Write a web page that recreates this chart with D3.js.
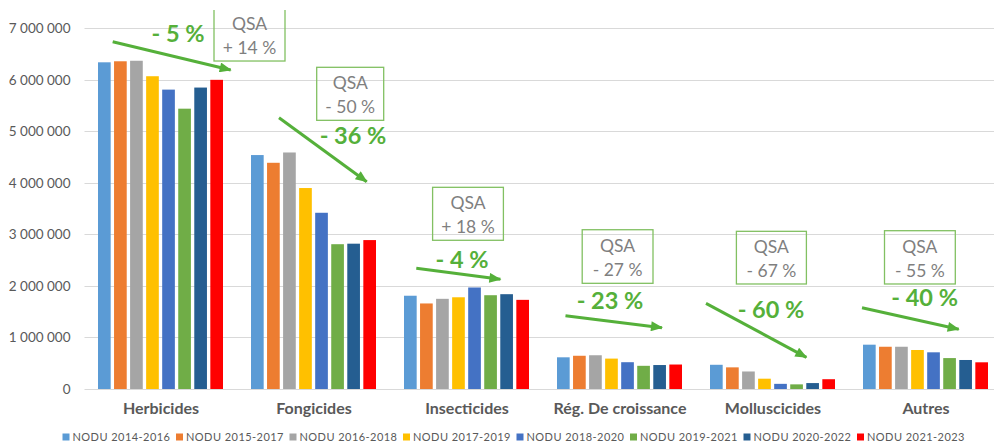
<!DOCTYPE html>
<meta charset="utf-8">
<style>
    body { margin: 0; background: #fff; }
    text { font-family: Lato, "Open Sans", sans-serif; }
    .grid line { stroke: #d9d9d9; stroke-width: 1; }
    .y.axis text { fill: #595959; font-size: 13.5px; }
    .x.axis text { fill: #595959; font-size: 16px; font-weight: bold; }
    .legend text { fill: #595959; font-size: 11px; letter-spacing: 0.45px; }
    .qsa rect { fill: none; stroke: #82c062; stroke-width: 1.3; }
    .qsa text { fill: #7f7f7f; font-size: 17.5px; text-anchor: middle; }
    .nodu text { fill: #55b03a; font-size: 23.5px; font-weight: bold; text-anchor: middle; }
    .arrow line { stroke: #55b03a; stroke-width: 3; }
</style>
<body>
<script src="https://cdn.jsdelivr.net/npm/d3@7"></script>
<script>
    // data
    var categories = ["Herbicides", "Fongicides", "Insecticides", "Rég. De croissance", "Molluscicides", "Autres"];
    var series = ["NODU 2014-2016", "NODU 2015-2017", "NODU 2016-2018", "NODU 2017-2019",
                  "NODU 2018-2020", "NODU 2019-2021", "NODU 2020-2022", "NODU 2021-2023"];
    var colors = ["#5b9bd5", "#ed7d31", "#a5a5a5", "#ffc000", "#4472c4", "#70ad47", "#255e91", "#ff0000"];

    // values per category, one per series
    var herbicides    = [6340000, 6360000, 6370000, 6070000, 5810000, 5440000, 5850000, 6000000];
    var fongicides    = [4540000, 4390000, 4590000, 3900000, 3420000, 2810000, 2820000, 2890000];
    var insecticides  = [1810000, 1660000, 1750000, 1780000, 1970000, 1820000, 1840000, 1730000];
    var regCroissance = [615000, 645000, 655000, 590000, 520000, 450000, 465000, 475000];
    var molluscicides = [470000, 420000, 340000, 200000, 100000, 90000, 115000, 190000];
    var autres        = [860000, 820000, 820000, 757000, 712000, 600000, 563000, 518000];
    var values = [herbicides, fongicides, insecticides, regCroissance, molluscicides, autres];

    var yTicks = [0, 1000000, 2000000, 3000000, 4000000, 5000000, 6000000, 7000000];

    var qsaChange  = ["+ 14 %", "- 50 %", "+ 18 %", "- 27 %", "- 67 %", "- 55 %"];
    var noduChange = ["- 5 %", "- 36 %", "- 4 %", "- 23 %", "- 60 %", "- 40 %"];

    // annotation layout: x offsets (px) from band start, y in data units
    var boxLayout = [
        {x: 129.5, w: 71, top: 7490000, bottom: 6365000},
        {x: 79.2, w: 67, top: 6243000, bottom: 5214000},
        {x: 42.1, w: 70.8, top: 3914000, bottom: 2886000},
        {x: 38.7, w: 70.8, top: 3091000, bottom: 2051000},
        {x: 39.9, w: 70, top: 3060000, bottom: 2038000},
        {x: 35, w: 70.8, top: 3072000, bottom: 2038000}
    ];
    var labelLayout = [
        {x: 93.5, y: 6903000}, {x: 115.5, y: 4910000}, {x: 71.5, y: 2503000},
        {x: 66.5, y: 1709000}, {x: 74.5, y: 1533000}, {x: 75.1, y: 1780000}
    ];
    var arrowLayout = [
        {x1: 28.2, y1: 6740000, x2: 146.2, y2: 6191000},
        {x1: 41.5, y1: 5265000, x2: 129.2, y2: 4023000},
        {x1: 25.8, y1: 2342000, x2: 109.9, y2: 2129000},
        {x1: 22, y1: 1422000, x2: 118.5, y2: 1190000},
        {x1: 9.5, y1: 1663000, x2: 109.9, y2: 615000},
        {x1: 12.5, y1: 1578000, x2: 109.2, y2: 1159000}
    ];

    var width = 994, height = 443;
    var plot = {left: 84.5, right: 1002.5, top: 28.3, bottom: 389};

    var x = d3.scaleBand()
            .domain(categories)
            .range([plot.left, plot.right]);

    var x1 = d3.scaleBand()
            .domain(series)
            .range([13.5, 138.5])
            .paddingInner(0.21);

    var y = d3.scaleLinear()
            .domain([0, 7000000])
            .range([plot.bottom, plot.top]);

    var fmt = function(d) { return d3.format(",")(d).replace(/,/g, " "); };

    var svg = d3.select("body").append("svg")
                .attr("width", width)
                .attr("height", height);

    var defs = svg.append("defs");
    defs.append("clipPath")
        .attr("id", "clip")
        .append("rect")
        .attr("x", 0).attr("y", 10).attr("width", width).attr("height", height - 10);

    defs.append("marker")
        .attr("id", "head")
        .attr("viewBox", "0 0 12 10")
        .attr("refX", 11).attr("refY", 5)
        .attr("markerWidth", 13).attr("markerHeight", 10)
        .attr("markerUnits", "userSpaceOnUse")
        .attr("orient", "auto")
        .append("path")
        .attr("d", "M0,0L12,5L0,10z")
        .attr("fill", "#55b03a");

    // gridlines
    svg.append("g")
        .attr("class", "grid")
        .selectAll("line")
        .data(yTicks)
        .join("line")
        .attr("x1", plot.left).attr("x2", width)
        .attr("y1", function(d) { return Math.round(y(d)) + 0.5; })
        .attr("y2", function(d) { return Math.round(y(d)) + 0.5; });

    // y axis
    var yAxis = d3.axisLeft(y).tickValues(yTicks).tickFormat(fmt).tickSize(0).tickPadding(14);
    svg.append("g")
        .attr("class", "y axis")
        .attr("transform", "translate(" + plot.left + ",0)")
        .call(yAxis)
        .call(function(g) { g.select(".domain").remove(); });

    // bars
    var groups = svg.append("g")
        .selectAll("g")
        .data(categories)
        .join("g")
        .attr("transform", function(d) { return "translate(" + x(d) + ",0)"; });

    groups.selectAll("rect")
        .data(function(d, i) { return values[i].map(function(v, j) { return {s: series[j], v: v, c: colors[j]}; }); })
        .join("rect")
        .attr("x", function(d) { return x1(d.s); })
        .attr("width", x1.bandwidth())
        .attr("y", function(d) { return y(d.v); })
        .attr("height", function(d) { return y(0) - y(d.v); })
        .attr("fill", function(d) { return d.c; });

    // x axis labels
    var xAxis = d3.axisBottom(x).tickSize(0).tickPadding(14);
    svg.append("g")
        .attr("class", "x axis")
        .attr("transform", "translate(0," + plot.bottom + ")")
        .call(xAxis)
        .call(function(g) { g.select(".domain").remove(); });

    // annotations
    var ann = svg.append("g").attr("clip-path", "url(#clip)");

    categories.forEach(function(c, i) {
        var bx = x(c);
        var b = boxLayout[i];
        var g = ann.append("g").attr("class", "qsa");
        var yt = y(b.top), yb = y(b.bottom);
        g.append("rect")
            .attr("x", bx + b.x).attr("y", yt)
            .attr("width", b.w).attr("height", yb - yt);
        g.append("text")
            .attr("x", bx + b.x + b.w / 2).attr("y", yb - 37.5)
            .attr("dy", "0.35em")
            .text("QSA");
        g.append("text")
            .attr("x", bx + b.x + b.w / 2).attr("y", yb - 13.5)
            .attr("dy", "0.35em")
            .text(qsaChange[i]);

        var a = arrowLayout[i];
        ann.append("g").attr("class", "arrow")
            .append("line")
            .attr("x1", bx + a.x1).attr("y1", y(a.y1))
            .attr("x2", bx + a.x2).attr("y2", y(a.y2))
            .attr("marker-end", "url(#head)");

        var l = labelLayout[i];
        ann.append("g").attr("class", "nodu")
            .append("text")
            .attr("x", bx + l.x).attr("y", y(l.y))
            .attr("dy", "0.35em")
            .text(noduChange[i]);
    });

    // legend
    var legend = svg.append("g")
        .attr("class", "legend")
        .selectAll("g")
        .data(series)
        .join("g")
        .attr("transform", function(d, i) { return "translate(" + (62.5 + i * 113.5) + ",437)"; });

    legend.append("rect")
        .attr("x", 0).attr("y", -3.5)
        .attr("width", 7).attr("height", 7)
        .attr("fill", function(d, i) { return colors[i]; });

    legend.append("text")
        .attr("x", 10)
        .attr("dy", "0.35em")
        .text(function(d) { return d; });
</script>
